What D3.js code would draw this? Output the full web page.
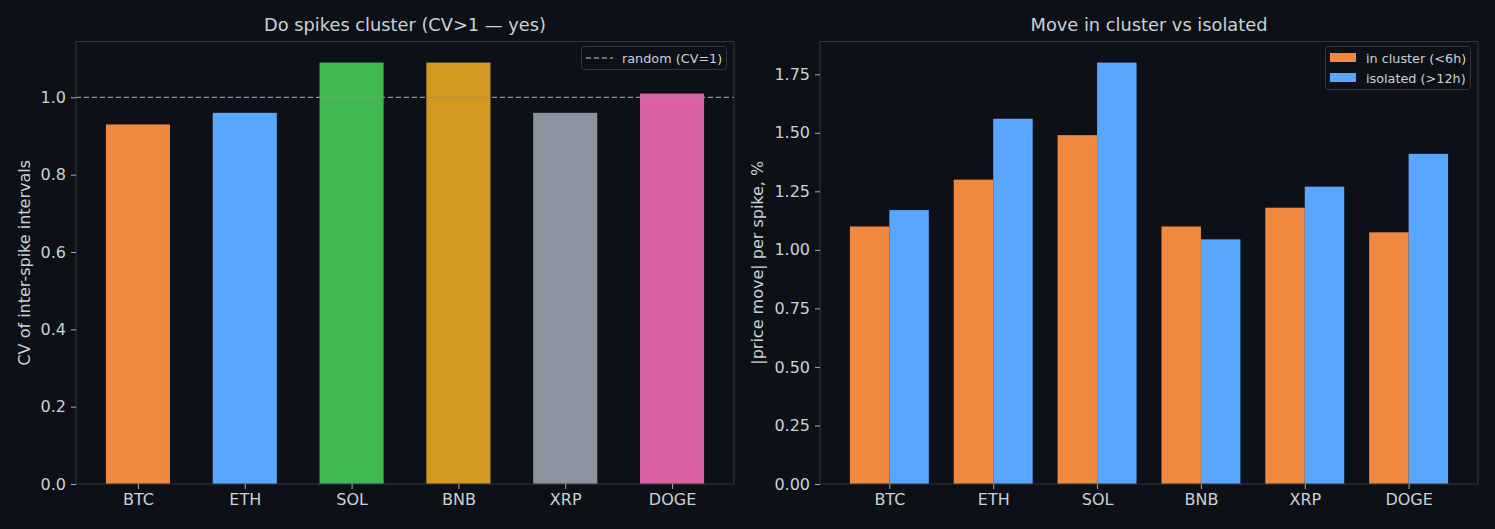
<!DOCTYPE html>
<html><head><meta charset="utf-8">
<script src="https://cdn.jsdelivr.net/npm/d3@7"></script>
<style>
html,body{margin:0;padding:0;background:#0d1117;}
text{font-family:"DejaVu Sans",sans-serif;}
</style></head>
<body><svg id="c" width="1495" height="529"></svg>
<script>
const coins = ["BTC","ETH","SOL","BNB","XRP","DOGE"];
const cvValues = [0.93, 0.96, 1.09, 1.09, 0.96, 1.01];
const cvColors = ["#f0883e","#58a6ff","#3fb950","#d29922","#8b949e","#db61a2"];
const clusterMove = [1.10, 1.30, 1.49, 1.10, 1.18, 1.075];
const isolatedMove = [1.17, 1.56, 1.80, 1.045, 1.27, 1.41];
const leftTicks = [0.0,0.2,0.4,0.6,0.8,1.0];
const rightTicks = [0,0.25,0.5,0.75,1.0,1.25,1.5,1.75];

const BG="#0d1117", TXT="#c9d1d9", SPINE="#30363d", GRAY="#8b949e";
const TICKF="16px", LABF="16px", TITF="17.8px", LEGF="12.8px";
const svg = d3.select("#c");
svg.append("rect").attr("width",1495).attr("height",529).attr("fill",BG);

function frame(g, x0, x1, y0, y1){
  g.append("rect").attr("x",x0).attr("y",y0).attr("width",x1-x0).attr("height",y1-y0)
   .attr("fill","none").attr("stroke",SPINE).attr("stroke-width",1);
}
function styleAxis(ax){
  ax.select(".domain").remove();
  ax.selectAll(".tick line").attr("stroke",TXT).attr("stroke-width",0.8);
  ax.selectAll(".tick text").attr("fill",TXT).attr("font-size",TICKF).attr("font-family","DejaVu Sans");
}

// LEFT
{
  const L=76, R=734, T=41.5, B=484;
  const g = svg.append("g");
  const x = d3.scaleLinear().domain([-0.58, 5.58]).range([L,R]);
  const y = d3.scaleLinear().domain([0, 1.09*1.05]).range([B,T]);
  g.selectAll("rect.bar").data(coins).join("rect").attr("class","bar")
    .attr("x",(d,i)=>x(i-0.3)).attr("width",(d,i)=>x(i+0.3)-x(i-0.3))
    .attr("y",(d,i)=>y(cvValues[i])).attr("height",(d,i)=>B-y(cvValues[i]))
    .attr("fill",(d,i)=>cvColors[i]);
  g.append("line").attr("x1",L).attr("x2",R).attr("y1",y(1)).attr("y2",y(1))
    .attr("stroke",GRAY).attr("stroke-width",1.3).attr("stroke-dasharray","5,3");
  frame(g,L,R,T,B);
  const ya = g.append("g").attr("transform",`translate(${L},0)`)
    .call(d3.axisLeft(y).tickValues(leftTicks).tickFormat(d3.format(".1f")).tickSize(5).tickPadding(5));
  styleAxis(ya);
  const xa = g.append("g").attr("transform",`translate(0,${B})`)
    .call(d3.axisBottom(x).tickValues(d3.range(coins.length)).tickFormat(i=>coins[i]).tickSize(5).tickPadding(5));
  styleAxis(xa);
  g.append("text").attr("x",(L+R)/2).attr("y",31).attr("text-anchor","middle")
    .attr("fill",TXT).attr("font-size",TITF).text("Do spikes cluster (CV>1 — yes)");
  g.append("text").attr("transform",`translate(30,${(T+B)/2}) rotate(-90)`).attr("text-anchor","middle")
    .attr("fill",TXT).attr("font-size",LABF).text("CV of inter-spike intervals");
  // legend
  const lg = g.append("g");
  lg.append("rect").attr("x",581.5).attr("y",46.5).attr("width",145).attr("height",23).attr("rx",3)
    .attr("fill",BG).attr("stroke",SPINE).attr("stroke-width",1);
  lg.append("line").attr("x1",586).attr("x2",613).attr("y1",58).attr("y2",58)
    .attr("stroke",GRAY).attr("stroke-width",1.3).attr("stroke-dasharray","5,3");
  lg.append("text").attr("x",622).attr("y",62.5).attr("fill",TXT).attr("font-size",LEGF).text("random (CV=1)");
}

// RIGHT
{
  const L=820, R=1478, T=41.5, B=484;
  const w=0.38;
  const g = svg.append("g");
  const x = d3.scaleLinear().domain([-0.668, 5.668]).range([L,R]);
  const y = d3.scaleLinear().domain([0, 1.80*1.05]).range([B,T]);
  g.selectAll("rect.c").data(coins).join("rect").attr("class","c")
    .attr("x",(d,i)=>x(i-w)).attr("width",(d,i)=>x(i)-x(i-w))
    .attr("y",(d,i)=>y(clusterMove[i])).attr("height",(d,i)=>B-y(clusterMove[i]))
    .attr("fill","#f0883e");
  g.selectAll("rect.s").data(coins).join("rect").attr("class","s")
    .attr("x",(d,i)=>x(i)).attr("width",(d,i)=>x(i+w)-x(i))
    .attr("y",(d,i)=>y(isolatedMove[i])).attr("height",(d,i)=>B-y(isolatedMove[i]))
    .attr("fill","#58a6ff");
  frame(g,L,R,T,B);
  const ya = g.append("g").attr("transform",`translate(${L},0)`)
    .call(d3.axisLeft(y).tickValues(rightTicks).tickFormat(d3.format(".2f")).tickSize(5).tickPadding(5));
  styleAxis(ya);
  const xa = g.append("g").attr("transform",`translate(0,${B})`)
    .call(d3.axisBottom(x).tickValues(d3.range(coins.length)).tickFormat(i=>coins[i]).tickSize(5).tickPadding(5));
  styleAxis(xa);
  g.append("text").attr("x",(L+R)/2).attr("y",31).attr("text-anchor","middle")
    .attr("fill",TXT).attr("font-size",TITF).text("Move in cluster vs isolated");
  g.append("text").attr("transform",`translate(763,${(T+B)/2}) rotate(-90)`).attr("text-anchor","middle")
    .attr("fill",TXT).attr("font-size",LABF).text("|price move| per spike, %");
  const lg = g.append("g");
  lg.append("rect").attr("x",1325.5).attr("y",46.5).attr("width",145).attr("height",43).attr("rx",3)
    .attr("fill",BG).attr("stroke",SPINE).attr("stroke-width",1);
  const items=[["in cluster (<6h)","#f0883e"],["isolated (>12h)","#58a6ff"]];
  items.forEach((it,k)=>{
    lg.append("rect").attr("x",1330).attr("y",53+k*20).attr("width",26).attr("height",9).attr("fill",it[1]);
    lg.append("text").attr("x",1366).attr("y",62.5+k*20).attr("fill",TXT).attr("font-size",LEGF).text(it[0]);
  });
}
</script></body></html>
